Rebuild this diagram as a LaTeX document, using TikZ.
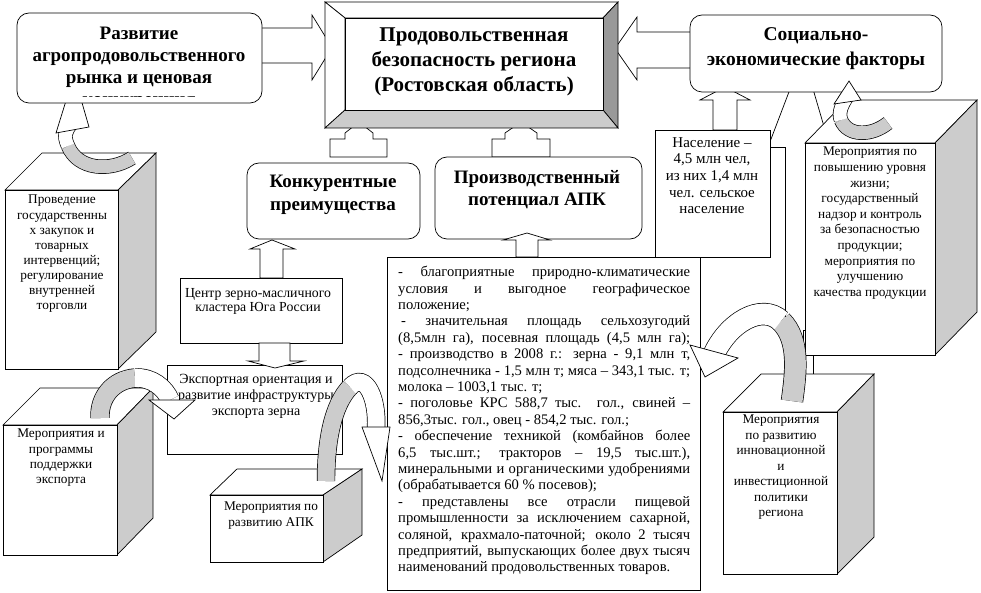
\documentclass[tikz,border=0pt]{standalone}
\usepackage{fontspec}
\setmainfont{Liberation Serif}
\definecolor{lg}{HTML}{CCCCCC}
\definecolor{dg}{HTML}{999999}
\begin{document}
\begin{tikzpicture}[x=1pt,y=-1pt,
  ln/.style={line width=0.7pt, line join=miter},
  fr/.style={draw, ln, fill=white, anchor=north west, inner sep=0pt, outer sep=0pt},
  rfr/.style={fr, rounded corners=12pt},
  blk/.style={draw, ln, fill=white},
  side/.style={draw, ln, fill=lg},
  tb/.style={font=\fontsize{19}{22}\selectfont\bfseries, align=center, inner sep=0pt, anchor=north},
  tn/.style={font=\fontsize{14.2}{16.6}\selectfont, align=center, inner sep=0pt, anchor=north},
  tc/.style={font=\fontsize{13.3}{15.3}\selectfont, align=center, inner sep=0pt, anchor=north},
  bk/.style={line width=#1, black},
  gf/.style={line width=#1, lg},
  wf/.style={line width=#1, white},
]
\useasboundingbox (0,0) rectangle (981,593);
% callout behind
\draw[ln, fill=white] (768,147) -- (803,55) -- (830,147);
\draw[ln] (700,147) -- (785,147) -- (785,373);
\draw[ln, fill=white] (803,330) rectangle (813,374);
% cubes
\draw[blk] (5,190)--(42,153)--(156,153)--(118,190)--cycle;
\draw[side] (118,190)--(156,153)--(156,332)--(118,369)--cycle;
\node[fr, minimum width=113pt, minimum height=179pt] (c1) at (5,190) {};
\node[tc, font=\fontsize{13.3}{15.1}\selectfont] (c1t) at (62,195) {Проведение\\государственны\\х закупок и\\товарных\\интервенций;\\регулирование\\внутренней\\торговли};
\draw[blk] (3,425)--(40,388)--(153,388)--(117,425)--cycle;
\draw[side] (117,425)--(153,388)--(153,518)--(117,555)--cycle;
\node[fr, minimum width=114pt, minimum height=130pt] (c2) at (3,425) {};
\node[tc] (c2t) at (61,429) {Мероприятия и\\программы\\поддержки\\экспорта};
\draw[blk] (210,495)--(237,469)--(362,469)--(323,495)--cycle;
\draw[side] (323,495)--(362,469)--(362,535)--(323,562)--cycle;
\node[fr, minimum width=113pt, minimum height=67pt] (c3) at (210,495) {};
\node[tc] (c3t) at (271,502) {Мероприятия по\\развитию АПК};
\draw[blk] (805,143)--(847,100)--(977,100)--(935,143)--cycle;
\draw[side] (935,143)--(977,100)--(977,312)--(935,355)--cycle;
\node[fr, minimum width=130pt, minimum height=212pt] (c4) at (805,143) {};
\node[tc, font=\fontsize{13.3}{15.6}\selectfont] (c4t) at (870,147) {Мероприятия по\\повышению уровня\\жизни;\\государственный\\надзор и контроль\\за безопасностью\\продукции;\\мероприятия по\\улучшению\\качества продукции};
\draw[blk] (723,412)--(761,374)--(874,374)--(837,412)--cycle;
\draw[side] (837,412)--(874,374)--(874,537)--(837,574)--cycle;
\node[fr, minimum width=114pt, minimum height=162pt] (c5) at (723,412) {};
\node[tc, font=\fontsize{13.3}{15.5}\selectfont] (c5t) at (781,415) {Мероприятия\\по развитию\\инновационной\\и\\инвестиционной\\политики\\региона};
% block arrows into the centre box
\draw[blk] (250,28)--(312,28)--(312,15)--(332,47.5)--(312,80)--(312,63)--(250,63)--cycle;
\draw[blk] (700,32)--(637,32)--(637,17)--(615,48.5)--(637,80)--(637,68)--(700,68)--cycle;
\draw[blk] (330,157)--(330,139)--(345,139)--(345,133)--(359,122)--(373,133)--(373,139)--(387,139)--(387,157)--cycle;
\draw[blk] (492,157)--(492,139)--(505,139)--(505,133)--(521,122)--(537,133)--(537,139)--(550,139)--(550,157)--cycle;
% centre bevel box
\draw[blk] (325,2)--(618,2)--(603,18)--(345,18)--cycle;
\draw[blk] (325,2)--(345,18)--(345,110)--(325,128)--cycle;
\draw[ln, fill=dg] (618,2)--(618,128)--(603,110)--(603,18)--cycle;
\draw[ln, fill=lg] (325,128)--(618,128)--(603,110)--(345,110)--cycle;
\node[fr, minimum width=258pt, minimum height=92pt] (center) at (345,18) {};
\node[font=\fontsize{21}{25}\selectfont\bfseries, align=center, inner sep=0pt, anchor=north] (centert) at (474,28) {Продовольственная\\безопасность региона\\(Ростовская область)};
% curved arrow A
\draw[bk=14.4pt] (132,158) .. controls (110,172) and (78,170) .. (68,146);
\draw[bk=14.4pt] (68,146) .. controls (63,135) and (66,131) .. (71,124);
\draw[gf=13pt] (132,158) .. controls (110,172) and (78,170) .. (68,146);
\draw[wf=13pt] (68,146) .. controls (63,135) and (66,131) .. (71,124);
\draw[blk] (56,133)--(89,127)--(74,75)--cycle;
% top-left box
\node[rfr, minimum width=245pt, minimum height=90pt] (tl) at (17,13) {};
\begin{scope}
\clip (17,13) rectangle (262,97);
\node[tb] (tlt) at (139,27) {Развитие\\агропродовольственного\\рынка и ценовая\\конкуренция};
\end{scope}
% population arrow and social box
\draw[blk] (713,130)--(713,100)--(700,100)--(725,87)--(750,100)--(737,100)--(737,130)--cycle;
\node[rfr, minimum width=252pt, minimum height=77pt] (soc) at (690,15) {};
\node[tb, font=\fontsize{19.5}{25}\selectfont\bfseries] (soct) at (816,27) {Социально-\\экономические факторы};
% curved arrow B
\draw[bk=14.4pt] (888,123) .. controls (872,136) and (848,137) .. (841,120);
\draw[bk=14.4pt] (841,120) .. controls (838,113) and (842,104) .. (847,97);
\draw[gf=13pt] (888,123) .. controls (872,136) and (848,137) .. (841,120);
\draw[wf=13pt] (841,120) .. controls (838,113) and (842,104) .. (847,97);
\draw[blk] (834,104)--(861,100)--(849,81)--cycle;
% population box
\node[fr, minimum width=115pt, minimum height=127pt] (pop) at (655,130) {};
\node[tn, font=\fontsize{15}{16.7}\selectfont] (popt) at (712,137) {Население –\\4,5 млн чел,\\из них 1,4 млн\\чел. сельское\\население};
% main text box
\node[fr, minimum width=313pt, minimum height=333pt] (txt) at (387,257) {};
\node[anchor=north west, inner sep=0pt, align=left, font=\fontsize{14.6}{16.4}\selectfont] (txtt) at (398,266) {%
\makebox[292pt][s]{- благоприятные природно-климатические}\\
\makebox[292pt][s]{условия и выгодное географическое}\\
положение;\\
\makebox[292pt][s]{\hspace*{3pt}- значительная площадь сельхозугодий}\\
\makebox[292pt][s]{(8,5млн га), посевная площадь (4,5 млн га);}\\
\makebox[292pt][s]{- производство в 2008 г.: зерна - 9,1 млн т,}\\
\makebox[292pt][s]{подсолнечника - 1,5 млн т; мяса – 343,1 тыс. т;}\\
молока – 1003,1 тыс. т;\\
\makebox[292pt][s]{- поголовье КРС 588,7 тыс. гол., свиней –}\\
856,3тыс. гол., овец - 854,2 тыс. гол.;\\
\makebox[292pt][s]{- обеспечение техникой (комбайнов более}\\
\makebox[292pt][s]{6,5 тыс.шт.; тракторов – 19,5 тыс.шт.),}\\
\makebox[292pt][s]{минеральными и органическими удобрениями}\\
(обрабатывается 60 \% посевов);\\
\makebox[292pt][s]{- представлены все отрасли пищевой}\\
\makebox[292pt][s]{промышленности за исключением сахарной,}\\
\makebox[292pt][s]{соляной, крахмало-паточной; около 2 тысяч}\\
\makebox[292pt][s]{предприятий, выпускающих более двух тысяч}\\
наименований продовольственных товаров.};
% other boxes
\node[fr, minimum width=162pt, minimum height=65pt] (cz) at (180,278) {};
\node[tc, font=\fontsize{13.8}{14}\selectfont] (czt) at (258,288) {Центр зерно-масличного\\кластера Юга России};
\node[fr, minimum width=175pt, minimum height=89pt] (exp) at (167,365) {};
\node[tn, font=\fontsize{14}{16}\selectfont] (expt) at (256,374) {Экспортная ориентация и\\развитие инфраструктуры\\экспорта зерна};
\node[rfr, minimum width=173pt, minimum height=76pt] (konk) at (247,163) {};
\node[tb, font=\fontsize{19}{23}\selectfont\bfseries] (konkt) at (333,175) {Конкурентные\\преимущества};
\node[rfr, minimum width=207pt, minimum height=82pt] (prz) at (435,157) {};
\node[tb] (przt) at (537,170) {Производственный\\потенциал АПК};
% straight block arrows between boxes
\draw[blk] (516,257)--(516,240)--(503,240)--(527,233)--(550,240)--(538,240)--(538,257)--cycle;
\draw[blk] (260,278)--(260,249)--(250,249)--(272,240)--(295,249)--(283,249)--(283,278)--cycle;
\draw[blk] (259,343)--(259,361)--(248,361)--(275,368)--(304,361)--(290,361)--(290,343)--cycle;
% curved arrow C
\draw[bk=19.4pt] (100,418) .. controls (99,397) and (113,380) .. (135,378);
\draw[bk=19.4pt] (135,378) .. controls (152,377) and (165,388) .. (170,400);
\draw[gf=18pt] (100,418) .. controls (99,397) and (113,380) .. (135,378);
\draw[wf=18pt] (135,378) .. controls (152,377) and (165,388) .. (170,400);
\draw[blk] (149,400)--(195,400)--(174,419)--cycle;
% curved arrow D
\draw[bk=18.4pt] (326,481) .. controls (326,440) and (333,405) .. (350,387);
\draw[bk=18.4pt] (350,387) .. controls (366,370) and (378,400) .. (376,428);
\draw[gf=17pt] (326,481) .. controls (326,440) and (333,405) .. (350,387);
\draw[wf=17pt] (350,387) .. controls (366,370) and (378,400) .. (376,428);
\draw[blk] (362,427)--(390,427)--(382,481)--cycle;
% curved arrow E
\draw[bk=22.4pt] (792,401) .. controls (796,372) and (800,340) .. (781,321);
\draw[bk=22.4pt] (781,321) .. controls (762,303) and (728,322) .. (713,356);
\draw[gf=21pt] (792,401) .. controls (796,372) and (800,340) .. (781,321);
\draw[wf=21pt] (781,321) .. controls (762,303) and (728,322) .. (713,356);
\draw[blk] (690,345)--(738,358)--(705,377)--cycle;
\end{tikzpicture}
\end{document}
